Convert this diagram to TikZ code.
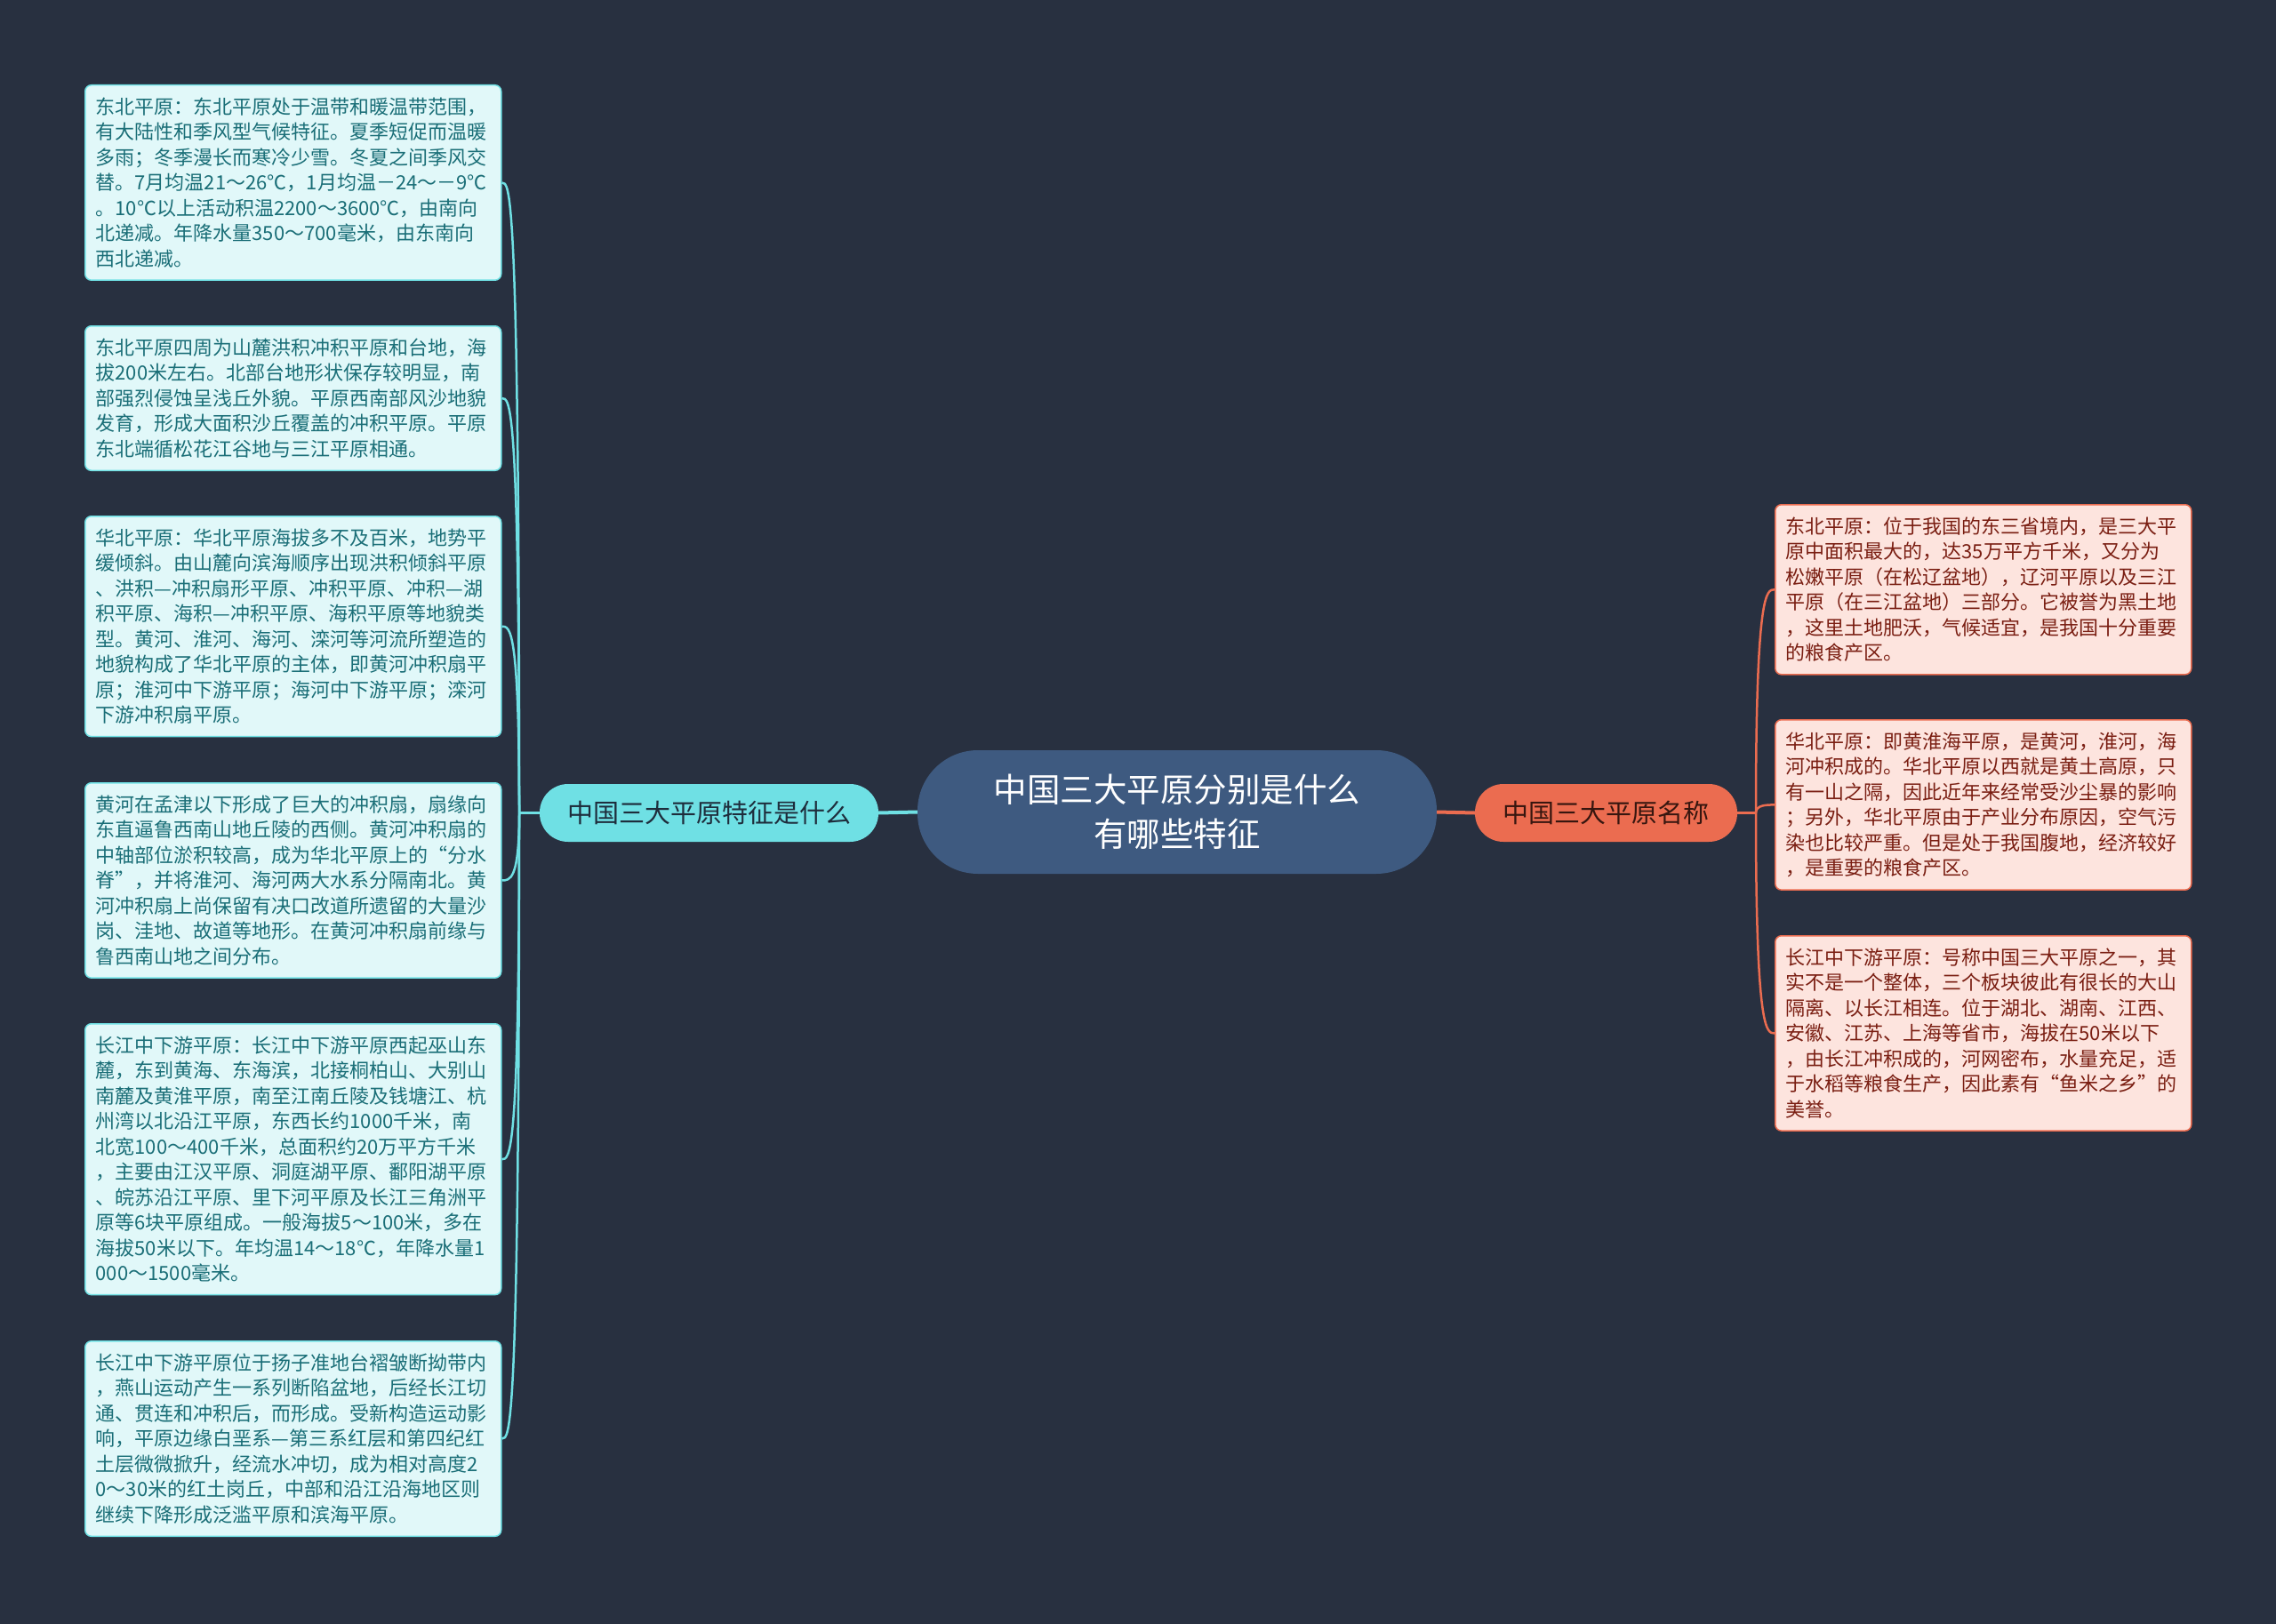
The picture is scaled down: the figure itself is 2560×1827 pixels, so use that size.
\documentclass[tikz,border=0pt]{standalone}
\usepackage{fontspec}
\setmainfont{Noto Sans CJK SC}
\definecolor{bg}{RGB}{40,48,64}
\definecolor{centerC}{RGB}{62,90,128}
\definecolor{cyanC}{RGB}{111,224,228}
\definecolor{coralC}{RGB}{235,108,80}
\definecolor{lfill}{RGB}{225,248,249}
\definecolor{ltext}{RGB}{26,110,119}
\definecolor{rfill}{RGB}{253,228,222}
\definecolor{rtext}{RGB}{122,30,18}
\definecolor{ldark}{RGB}{30,45,60}
\definecolor{rdark}{RGB}{55,22,15}
\begin{document}
\begin{tikzpicture}[x=1pt,y=-1pt,
  lbox/.style={draw=cyanC, line width=1.5pt, fill=lfill, text=ltext, rounded corners=7pt,
    inner xsep=12pt, inner ysep=14pt, text width=444pt, align=left, anchor=north west,
    font=\fontsize{22}{28.5}\selectfont},
  rbox/.style={draw=coralC, line width=1.5pt, fill=rfill, text=rtext, rounded corners=7pt,
    inner xsep=12pt, inner ysep=14pt, text width=444pt, align=left, anchor=north west,
    font=\fontsize{22}{28.5}\selectfont},
  centernode/.style={fill=centerC, text=white, minimum width=584pt, minimum height=139pt,
    rounded corners=68pt, align=center, font=\fontsize{37.5}{50}\selectfont},
  lnode/.style={fill=cyanC, text=ldark, minimum width=381pt, minimum height=65pt,
    rounded corners=32pt, font=\fontsize{29}{34}\selectfont},
  rnode/.style={fill=coralC, text=rdark, minimum width=295pt, minimum height=65pt,
    rounded corners=32pt, font=\fontsize{29}{34}\selectfont},
  lconn/.style={draw=cyanC, line width=2.5pt},
  rconn/.style={draw=coralC, line width=2.5pt}
]
\fill[bg] (0,0) rectangle (2560,1827);
\useasboundingbox (0,0) rectangle (2560,1827);

% central nodes
\node[centernode] (c) at (1324,913.5) {中国三大平原分别是什么\\有哪些特征};
\node[lnode] (ln) at (797.5,914.5) {中国三大平原特征是什么};
\node[rnode] (rn) at (1806.5,914.5) {中国三大平原名称};

% left boxes
\node[lbox] (l1) at (95,95) {东北平原：东北平原处于温带和暖温带范围，\\
有大陆性和季风型气候特征。夏季短促而温暖\\
多雨；冬季漫长而寒冷少雪。冬夏之间季风交\\
替。7月均温21～26℃，1月均温－24～－9℃\\
。10℃以上活动积温2200～3600℃，由南向\\
北递减。年降水量350～700毫米，由东南向\\
西北递减。};
\node[lbox] (l2) at (95,366) {东北平原四周为山麓洪积冲积平原和台地，海\\
拔200米左右。北部台地形状保存较明显，南\\
部强烈侵蚀呈浅丘外貌。平原西南部风沙地貌\\
发育，形成大面积沙丘覆盖的冲积平原。平原\\
东北端循松花江谷地与三江平原相通。};
\node[lbox] (l3) at (95,580) {华北平原：华北平原海拔多不及百米，地势平\\
缓倾斜。由山麓向滨海顺序出现洪积倾斜平原\\
、洪积—冲积扇形平原、冲积平原、冲积—湖\\
积平原、海积—冲积平原、海积平原等地貌类\\
型。黄河、淮河、海河、滦河等河流所塑造的\\
地貌构成了华北平原的主体，即黄河冲积扇平\\
原；淮河中下游平原；海河中下游平原；滦河\\
下游冲积扇平原。};
\node[lbox] (l4) at (95,880) {黄河在孟津以下形成了巨大的冲积扇，扇缘向\\
东直逼鲁西南山地丘陵的西侧。黄河冲积扇的\\
中轴部位淤积较高，成为华北平原上的“分水\\
脊”，并将淮河、海河两大水系分隔南北。黄\\
河冲积扇上尚保留有决口改道所遗留的大量沙\\
岗、洼地、故道等地形。在黄河冲积扇前缘与\\
鲁西南山地之间分布。};
\node[lbox] (l5) at (95,1151) {长江中下游平原：长江中下游平原西起巫山东\\
麓，东到黄海、东海滨，北接桐柏山、大别山\\
南麓及黄淮平原，南至江南丘陵及钱塘江、杭\\
州湾以北沿江平原，东西长约1000千米，南\\
北宽100～400千米，总面积约20万平方千米\\
，主要由江汉平原、洞庭湖平原、鄱阳湖平原\\
、皖苏沿江平原、里下河平原及长江三角洲平\\
原等6块平原组成。一般海拔5～100米，多在\\
海拔50米以下。年均温14～18℃，年降水量1\\
000～1500毫米。};
\node[lbox] (l6) at (95,1508) {长江中下游平原位于扬子准地台褶皱断拗带内\\
，燕山运动产生一系列断陷盆地，后经长江切\\
通、贯连和冲积后，而形成。受新构造运动影\\
响，平原边缘白垩系—第三系红层和第四纪红\\
土层微微掀升，经流水冲切，成为相对高度2\\
0～30米的红土岗丘，中部和沿江沿海地区则\\
继续下降形成泛滥平原和滨海平原。};

% right boxes
\node[rbox] (r1) at (1996,567) {东北平原：位于我国的东三省境内，是三大平\\
原中面积最大的，达35万平方千米，又分为\\
松嫩平原（在松辽盆地），辽河平原以及三江\\
平原（在三江盆地）三部分。它被誉为黑土地\\
，这里土地肥沃，气候适宜，是我国十分重要\\
的粮食产区。};
\node[rbox] (r2) at (1996,809) {华北平原：即黄淮海平原，是黄河，淮河，海\\
河冲积成的。华北平原以西就是黄土高原，只\\
有一山之隔，因此近年来经常受沙尘暴的影响\\
；另外，华北平原由于产业分布原因，空气污\\
染也比较严重。但是处于我国腹地，经济较好\\
，是重要的粮食产区。};
\node[rbox] (r3) at (1996,1052) {长江中下游平原：号称中国三大平原之一，其\\
实不是一个整体，三个板块彼此有很长的大山\\
隔离、以长江相连。位于湖北、湖南、江西、\\
安徽、江苏、上海等省市，海拔在50米以下\\
，由长江冲积成的，河网密布，水量充足，适\\
于水稻等粮食生产，因此素有“鱼米之乡”的\\
美誉。};

% connectors
\draw[cyanC, line width=4pt] (c.west) -- (ln.east);
\draw[coralC, line width=4pt] (c.east) -- (rn.west);
\coordinate (jl) at (584,914.5);
\coordinate (jr) at (1975,914.5);
\draw[lconn] (ln.west) -- (jl);
\draw[rconn] (rn.east) -- (jr);
\foreach \b in {l1,l2,l3,l4,l5,l6}{
  \draw[lconn] (jl) .. controls (jl |- \b.east) and ([xshift=9pt]\b.east) .. (\b.east);
}
\foreach \b in {r1,r2,r3}{
  \draw[rconn] (jr) .. controls (jr |- \b.west) and ([xshift=-9pt]\b.west) .. (\b.west);
}
\end{tikzpicture}
\end{document}
